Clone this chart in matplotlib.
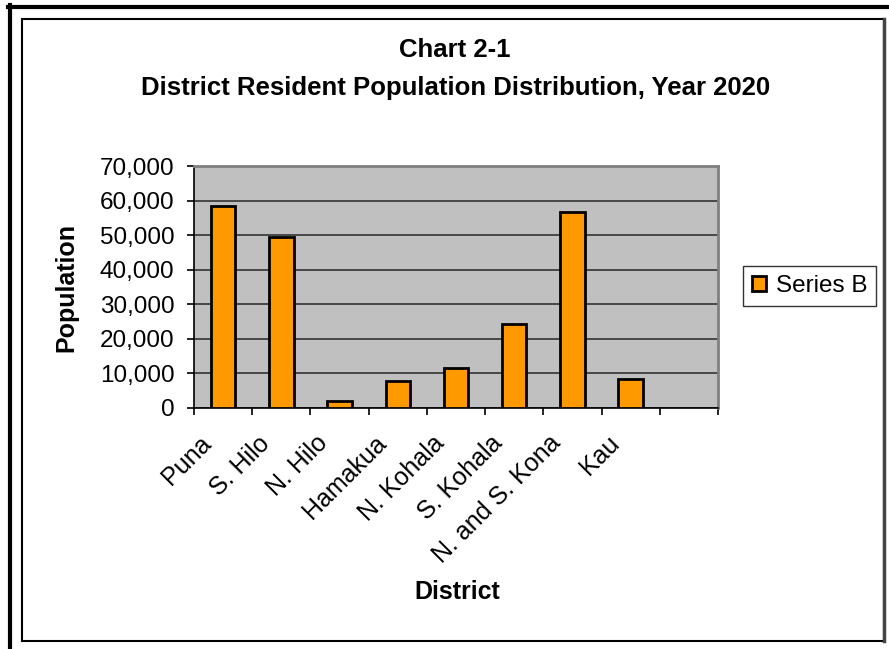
import numpy as np
import matplotlib.pyplot as plt
import matplotlib.transforms as mtransforms
from matplotlib.lines import Line2D
from matplotlib.patches import Rectangle

plt.rcParams['font.family'] = ['Liberation Sans', 'DejaVu Sans']

districts = ['Puna', 'S. Hilo', 'N. Hilo', 'Hamakua', 'N. Kohala',
             'S. Kohala', 'N. and S. Kona', 'Kau', '']
population = [58440, 49490, 1900, 7690, 11440, 24270, 56620, 8260, 0]

fig = plt.figure(figsize=(8.89, 6.49), dpi=100)
ax = fig.add_axes([194 / 889, 1 - 408 / 649, 524 / 889, 242 / 649])

x = np.arange(len(districts))
bars = ax.bar(x[:-1], population[:-1], width=0.42, color='#FF9900',
              edgecolor='black', linewidth=2, label='Series B', zorder=3)

ax.set_facecolor('#C0C0C0')
ax.set_xlim(-0.5, len(districts) - 0.5)
ax.set_ylim(0, 70000)
ax.set_yticks(range(0, 70001, 10000))
ax.set_yticklabels([f'{v:,}' for v in range(0, 70001, 10000)], fontsize=17.5)
ax.yaxis.grid(True, color='#333333', linewidth=1.2, zorder=1)

ax.set_xticks(x[:-1])
ax.set_xticklabels(districts[:-1], rotation=45, ha='right',
                   rotation_mode='anchor', fontsize=18)
ax.tick_params(axis='x', length=0, pad=8)
shift = mtransforms.ScaledTranslation(-24 / 100, -12 / 100, fig.dpi_scale_trans)
for lbl in ax.get_xticklabels():
    lbl.set_transform(lbl.get_transform() + shift)
ax.set_xticks(np.arange(-0.5, len(districts)), minor=True)
ax.tick_params(axis='x', which='minor', length=5, width=1.2, direction='out')
ax.tick_params(axis='y', length=5, width=1.2, direction='out', pad=9)

for s in ['left', 'bottom']:
    ax.spines[s].set_color('black')
    ax.spines[s].set_linewidth(1.2)
for s in ['top', 'right']:
    ax.spines[s].set_color('#808080')
    ax.spines[s].set_linewidth(2)

ax.set_ylabel('Population', fontsize=18, fontweight='bold')
ax.set_xlabel('District', fontsize=18, fontweight='bold')
ax.xaxis.set_label_coords(263 / 524, -(580 - 408) / 242)
ax.yaxis.set_label_coords(-(194 - 78) / 524, (408 - 287) / 242)

fig.text(455 / 889, 1 - 50 / 649, 'Chart 2-1', ha='center', va='center',
         fontsize=18.5, fontweight='bold')
fig.text(456 / 889, 1 - 88 / 649, 'District Resident Population Distribution, Year 2020',
         ha='center', va='center', fontsize=18.5, fontweight='bold')

leg = fig.legend(handles=[bars], labels=['Series B'], loc='center left',
                 bbox_to_anchor=(743 / 889, 1 - 286 / 649), fontsize=17.5,
                 frameon=True, fancybox=False, edgecolor='black',
                 handlelength=0.6, handleheight=0.6, handletextpad=0.4,
                 borderpad=0.35, borderaxespad=0)
leg.get_frame().set_linewidth(1)

# chart area border and outer frame
fig.add_artist(Rectangle((22 / 889, 1 - 641 / 649), 862 / 889, 622 / 649,
                         transform=fig.transFigure, fill=False,
                         edgecolor='black', linewidth=1.5))
fig.add_artist(Line2D([884 / 889, 884 / 889], [1 - 641 / 649, 1 - 19 / 649],
                      transform=fig.transFigure, color='#444444', linewidth=2.5))
fig.add_artist(Line2D([8 / 889, 1], [1 - 6.5 / 649, 1 - 6.5 / 649],
                      transform=fig.transFigure, color='black', linewidth=3))
fig.add_artist(Line2D([9.5 / 889, 9.5 / 889], [0, 1 - 5 / 649],
                      transform=fig.transFigure, color='black', linewidth=3))

fig.savefig('out.png', dpi=100)
